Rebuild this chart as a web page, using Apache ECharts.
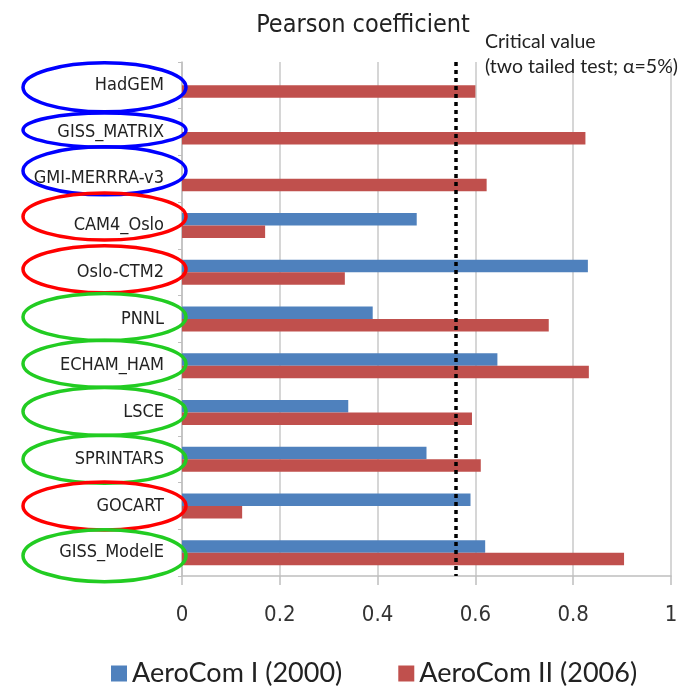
<!DOCTYPE html>
<html><head><meta charset="utf-8">
<script src="https://cdn.jsdelivr.net/npm/echarts@6/dist/echarts.min.js"></script>
<style>html,body{margin:0;padding:0;background:#fff}#c{width:696px;height:688px}</style>
</head><body><div id="c"></div>
<script>
// ---- data ----
const categories = ['HadGEM','GISS_MATRIX','GMI-MERRRA-v3','CAM4_Oslo','Oslo-CTM2','PNNL','ECHAM_HAM','LSCE','SPRINTARS','GOCART','GISS_ModelE'];
const aerocomI  = [null, null, null, 0.48, 0.83, 0.39, 0.645, 0.34, 0.50, 0.59, 0.62];
const aerocomII = [0.60, 0.825, 0.623, 0.17, 0.333, 0.75, 0.832, 0.593, 0.611, 0.123, 0.904];
const seriesNames = ['AeroCom I (2000)', 'AeroCom II (2006)'];
const xTickValues = [0, 0.2, 0.4, 0.6, 0.8, 1];
const criticalValue = 0.555;
const modelGroups = ['blue','blue','blue','red','red','green','green','green','green','red','green'];

// ---- styling ----
const groupColors = {blue:'#0000ff', red:'#ff0000', green:'#22cc22'};
const ellipseRy = [24.5, 17, 24, 23.5, 23.5, 23.5, 23.5, 24, 24, 24, 26];
const ellipseDy = [2, -2, -8, -9, -3, -2, -2, -1, 0, 0, 3];
const narrow = '"Liberation Sans Narrow","DejaVu Sans Condensed",sans-serif';

const chart = echarts.init(document.getElementById('c'));
const option = {
  animation: false,
  backgroundColor: '#fff',
  title: {
    text: 'Pearson coefficient', left: 358, top: 8, textAlign: 'center',
    textStyle: {fontFamily: narrow, fontSize: 25, fontWeight: 'normal', color: '#222'}
  },
  legend: {
    data: seriesNames, bottom: -4, left: 106, itemWidth: 16, itemHeight: 16, itemGap: 56,
    icon: 'rect',
    textStyle: {fontFamily: 'Lato', fontSize: 27, color: '#222'}
  },
  grid: {left: 182, right: 25, top: 62, bottom: 112, containLabel: false},
  xAxis: {
    type: 'value', min: xTickValues[0], max: xTickValues[xTickValues.length-1], interval: 0.2,
    axisLine: {show: true, lineStyle: {color: '#bfbfbf', width: 1.5}},
    axisTick: {show: true, length: 9, lineStyle: {color: '#bfbfbf', width: 1.5}},
    splitLine: {show: true, lineStyle: {color: '#c8c8c8', width: 1.5}},
    axisLabel: {fontFamily: narrow, fontSize: 22, color: '#333', margin: 28}
  },
  yAxis: {
    type: 'category', data: categories, inverse: true,
    axisLine: {show: true, lineStyle: {color: '#bfbfbf', width: 1.5}},
    axisTick: {show: true, length: 4, lineStyle: {color: '#bfbfbf'}},
    splitLine: {show: false},
    axisLabel: {fontFamily: narrow, fontSize: 18, color: '#222', margin: 18}
  },
  series: [
    {name: seriesNames[0], type: 'bar', data: aerocomI, barWidth: 12.5, barGap: '0%',
     itemStyle: {color: '#4f81bd'}},
    {name: seriesNames[1], type: 'bar', data: aerocomII, barWidth: 12.5, barGap: '0%',
     itemStyle: {color: '#c0504d'},
     markLine: {silent: true, symbol: 'none', label: {show: false},
       lineStyle: {color: '#000', type: [4, 4], width: 3.5},
       data: [{xAxis: criticalValue}]}}
  ]
};
chart.setOption(option);

const graphics = [{
  type: 'text', left: 485, top: 29, z: 20,
  style: {text: 'Critical value\n(two tailed test; α=5%)', font: '19.5px Lato', fill: '#222', lineHeight: 25}
}];
categories.forEach((cat, i) => {
  const cy = chart.convertToPixel({yAxisIndex: 0}, cat) + ellipseDy[i];
  graphics.push({
    type: 'ellipse', z: 20, silent: true,
    shape: {cx: 104.5, cy: cy, rx: 81.5, ry: ellipseRy[i]},
    style: {fill: 'none', stroke: groupColors[modelGroups[i]], lineWidth: 3.5}
  });
});
chart.setOption({graphic: graphics});
</script>
</body></html>
